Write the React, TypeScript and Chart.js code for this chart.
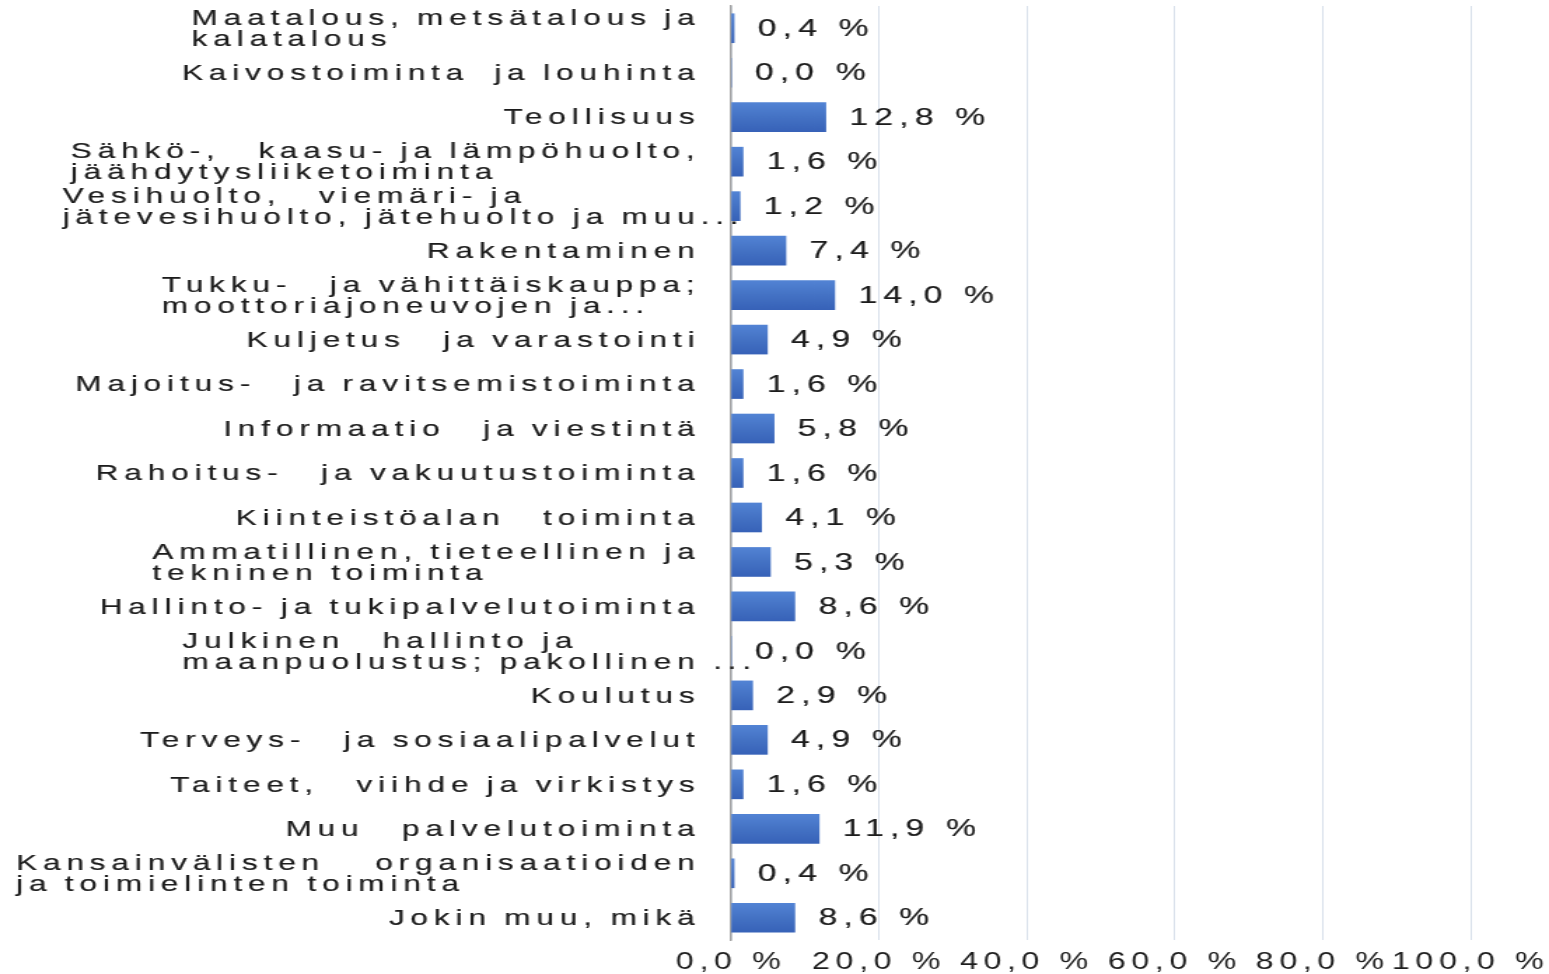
import { useEffect, useRef } from 'react'
import { Chart, registerables } from 'chart.js'
import type { Plugin } from 'chart.js'

Chart.register(...registerables)

// toimialat, rivitettynä niin kuin kuvassa (leveät välit kuten kuvassa)
const toimialat: string[][] = [
  ['Maatalous, metsätalous ja', 'kalatalous'],
  ['Kaivostoiminta  ja louhinta'],
  ['Teollisuus'],
  ['Sähkö-,   kaasu- ja lämpöhuolto,', 'jäähdytysliiketoiminta'],
  ['Vesihuolto,   viemäri- ja', 'jätevesihuolto, jätehuolto ja muu...'],
  ['Rakentaminen'],
  ['Tukku-   ja vähittäiskauppa;', 'moottoriajoneuvojen ja...'],
  ['Kuljetus   ja varastointi'],
  ['Majoitus-   ja ravitsemistoiminta'],
  ['Informaatio   ja viestintä'],
  ['Rahoitus-   ja vakuutustoiminta'],
  ['Kiinteistöalan   toiminta'],
  ['Ammatillinen, tieteellinen ja', 'tekninen toiminta'],
  ['Hallinto- ja tukipalvelutoiminta'],
  ['Julkinen   hallinto ja', 'maanpuolustus; pakollinen ...'],
  ['Koulutus'],
  ['Terveys-   ja sosiaalipalvelut'],
  ['Taiteet,   viihde ja virkistys'],
  ['Muu   palvelutoiminta'],
  ['Kansainvälisten    organisaatioiden', 'ja toimielinten toiminta'],
  ['Jokin muu, mikä'],
]

const osuudet = [0.4, 0.0, 12.8, 1.6, 1.2, 7.4, 14.0, 4.9, 1.6, 5.8, 1.6, 4.1, 5.3, 8.6, 0.0, 2.9, 4.9, 1.6, 11.9, 0.4, 8.6]

const xTicks = [0, 20, 40, 60, 80, 100]

const pct = (v: number) => v.toFixed(1).replace('.', ',') + ' %'

// kuva on vaakasuunnassa venytetty: piirretään kapeammalle kankaalle ja venytetään CSS:llä
const W = 1106
const H = 974
const FONT = '"Liberation Sans", Arial, sans-serif'
const TEXT = '#1c1c1c'

const spacing: Plugin<'bar'> = {
  id: 'spacing',
  beforeDraw(chart) {
    ;(chart.ctx as any).letterSpacing = '4px'
  },
}

const catLabels: Plugin<'bar'> = {
  id: 'catLabels',
  afterDraw(chart) {
    const { ctx, scales } = chart
    const y = scales.y
    const ls = 4.2
    const right = chart.chartArea.left - 26
    ctx.save()
    ;(ctx as any).letterSpacing = ls + 'px'
    ;(ctx as any).wordSpacing = '-1.5px'
    ctx.font = `22.5px ${FONT}`
    ctx.fillStyle = TEXT
    ctx.strokeStyle = TEXT
    ctx.lineWidth = 0.2
    ctx.textAlign = 'left'
    ctx.textBaseline = 'middle'
    toimialat.forEach((lines, i) => {
      const yc = y.getPixelForValue(i)
      // katkaisupisteet jäävät tasauksen ulkopuolelle, kuten kuvassa
      const w = Math.max(...lines.map(l => ctx.measureText(l.replace(/\s*\.\.\.$/, '')).width)) - ls
      const x0 = right - w
      const lh = 21
      lines.forEach((l, j) => {
        const ty = yc + 1 + (j - (lines.length - 1) / 2) * lh
        ctx.fillText(l, x0, ty)
        ctx.strokeText(l, x0, ty)
      })
    })
    ctx.restore()
  },
}

const valueLabels: Plugin<'bar'> = {
  id: 'valueLabels',
  afterDatasetsDraw(chart) {
    const { ctx } = chart
    const meta = chart.getDatasetMeta(0)
    ctx.save()
    ;(ctx as any).letterSpacing = '4.4px'
    ctx.font = `24px ${FONT}`
    ctx.fillStyle = TEXT
    ctx.strokeStyle = TEXT
    ctx.lineWidth = 0.2
    ctx.textAlign = 'left'
    ctx.textBaseline = 'middle'
    meta.data.forEach((el: any, i) => {
      ctx.fillText(pct(osuudet[i]), el.x + 17, el.y + 1)
      ctx.strokeText(pct(osuudet[i]), el.x + 17, el.y + 1)
    })
    ctx.restore()
  },
}

export default function App() {
  const canvasRef = useRef<HTMLCanvasElement>(null)

  useEffect(() => {
    if (!canvasRef.current) return
    const chart = new Chart(canvasRef.current, {
      type: 'bar',
      data: {
        labels: toimialat.map(l => l.join(' ')),
        datasets: [{
          data: osuudet,
          backgroundColor: (c: any) => {
            const ch = c.chart
            const ys = ch.scales?.y
            if (c.dataIndex === undefined || !ys) return '#4472c4'
            const yc = ys.getPixelForValue(c.dataIndex)
            if (!Number.isFinite(yc)) return '#4472c4'
            const g = ch.ctx.createLinearGradient(0, yc - 14.5, 0, yc + 14.5)
            g.addColorStop(0, '#5283d4')
            g.addColorStop(0.5, '#4472c4')
            g.addColorStop(1, '#3762b8')
            return g
          },
          borderWidth: 0,
          barThickness: 29,
        }],
      },
      options: {
        indexAxis: 'y',
        responsive: false,
        devicePixelRatio: 1,
        animation: false,
        layout: { padding: { top: 6, right: 56, bottom: 0, left: 0 } },
        plugins: {
          legend: { display: false },
          tooltip: { enabled: false },
        },
        scales: {
          x: {
            min: 0,
            max: 100,
            afterBuildTicks: (s: any) => { s.ticks = xTicks.map(v => ({ value: v })) },
            afterFit: (s: any) => { s.height = 34 },
            ticks: {
              autoSkip: false,
              maxRotation: 0,
              padding: 11,
              color: TEXT,
              font: { family: FONT, size: 23, lineHeight: 1 },
              callback: (v: any) => pct(Number(v)),
            },
            grid: { color: '#d9e0eb', lineWidth: 1, drawTicks: false },
            border: { display: false },
          },
          y: {
            afterFit: (s: any) => { s.width = 522 },
            ticks: { display: false },
            grid: { display: false },
            border: { display: true, color: '#a3a3a3', width: 1.5 },
          },
        },
      },
      plugins: [spacing, catLabels, valueLabels],
    })
    return () => chart.destroy()
  }, [])

  return (
    <div style={{ position: 'fixed', left: 0, top: 0, width: 1549, height: 974, background: '#fff' }}>
      <canvas ref={canvasRef} width={W} height={H} style={{ width: '1549px', height: '974px', display: 'block' }} />
    </div>
  )
}
